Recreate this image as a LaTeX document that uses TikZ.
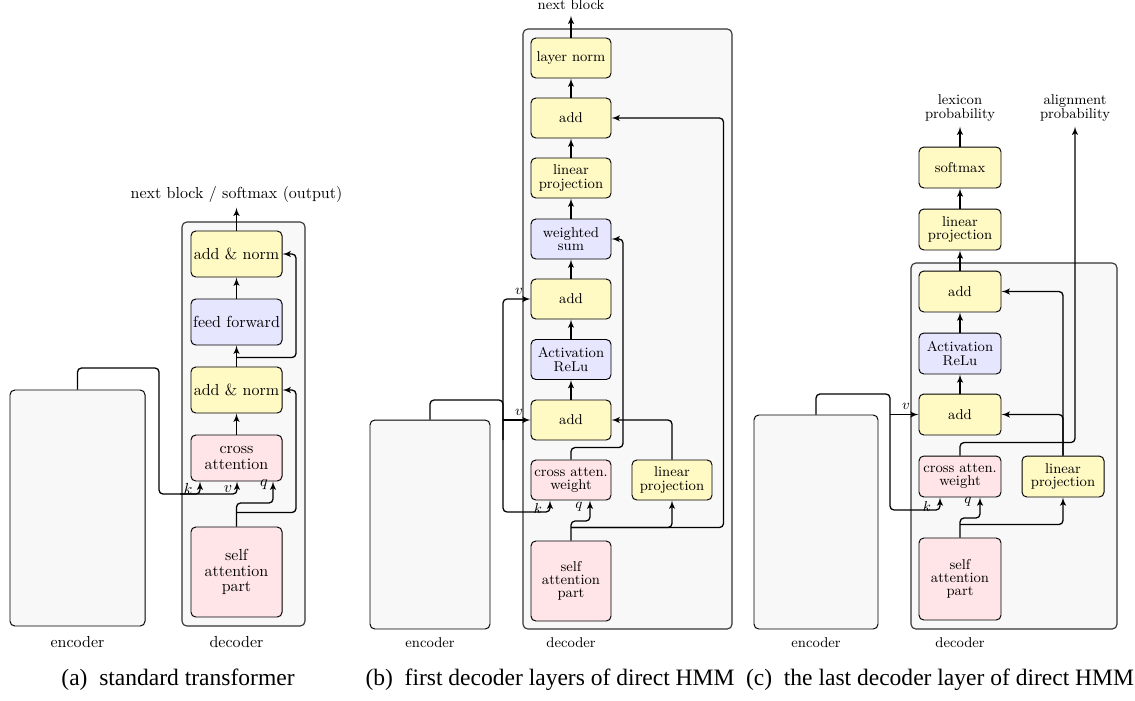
\documentclass[tikz,border=0pt]{standalone}
\usepackage{fontspec}
\newfontfamily\capfont{Liberation Serif}
\usepackage{tikz}
\usetikzlibrary{calc}
\usetikzlibrary{arrows}
\tikzset{>=latex'}
\definecolor{addyellow}{RGB}{255,249,196}
\definecolor{ffblue}{RGB}{230,230,255}
\definecolor{attred}{RGB}{255,229,231}
\definecolor{framegray}{RGB}{248,248,248}
\tikzset{
	blk/.style={draw,rounded corners=3pt,line width=0.6pt,inner sep=1pt,align=center},
	yblk/.style={blk,fill=addyellow},
	bblk/.style={blk,fill=ffblue},
	rblk/.style={blk,fill=attred},
	encblk/.style={blk,fill=framegray},
	decframe/.style={draw=black!80,fill=framegray,rounded corners=3pt,line width=0.7pt},
	sza/.style={minimum width=56.9pt,minimum height=28.75pt,font=\fontsize{10}{9.6}\selectfont},
	szb/.style={minimum width=50pt,minimum height=25pt,font=\fontsize{8.9}{8.2}\selectfont},
	szc/.style={minimum width=51.25pt,minimum height=25.6pt,font=\fontsize{8.9}{8.2}\selectfont},
	conn/.style={line width=0.8pt,rounded corners=2.5pt},
	lbla/.style={font=\fontsize{10}{9.6}\selectfont,align=center},
	lblb/.style={font=\fontsize{8.9}{8.2}\selectfont,align=center},
	capt/.style={font=\capfont\fontsize{14.7}{17}\selectfont}
}

\begin{document}
\begin{tikzpicture}[x=0.625pt,y=-0.625pt]
	\useasboundingbox (0,0) rectangle (1135,700);
	% (a) standard transformer
	\draw[decframe] (182,222) rectangle (305,626);
	\node[encblk,minimum width=84.4pt,minimum height=147.5pt] (encA) at (77.5,508) {};
	\node[yblk,sza] (anA2) at (236.5,254) {add \& norm};
	\node[bblk,sza] (ffA) at (236.5,322) {feed forward};
	\node[yblk,sza] (anA1) at (236.5,390) {add \& norm};
	\node[rblk,sza] (caA) at (236.5,458) {cross\\attention};
	\node[rblk,sza,minimum height=56.25pt] (saA) at (236.5,572) {self\\attention\\part};
	\node[lbla] (outA) at (236.5,194) {next block / softmax (output)};
	\node[lbla] (encAl) at (77.5,642) {encoder};
	\node[lbla] (decAl) at (236.5,642) {decoder};
	\node[lbla] (kAl) at (188,489) {$k$};
	\node[lbla] (vAl) at (228,489) {$v$};
	\node[lbla] (qAl) at (264,485) {$q$};
	\coordinate (kA) at (200,494);
	\coordinate (vA) at (237,494);
	\coordinate (qA) at (273,503);
	\draw[conn,->] (anA2.north) -- (outA.south);
	\draw[conn,->] (ffA.north) -- (anA2.south);
	\draw[conn,->] (anA1.north) -- (ffA.south);
	\draw[conn,->] (caA.north) -- (anA1.south);
	\draw[conn,->] (encA.north) |- (159,368) |- (kA) -- (caA.south -| kA);
	\draw[conn,->] (180,494) -- (vA) -- (caA.south -| vA);
	\draw[conn,->] (saA.north) |- (qA) -- (caA.south -| qA);
	\draw[conn,->] ($(saA.north)+(0,-14)$) -| ($(anA1.east)+(13.5,0)$) -- (anA1.east);
	\draw[conn,->] ($(anA1.north)+(0,-9)$) -| ($(anA2.east)+(13.5,0)$) -- (anA2.east);
	\node[capt] (capA) at (178,680) {(a)\enspace standard transformer};

	% (b) first decoder layers
	\draw[decframe] (523,29) rectangle (732,629);
	\node[encblk,minimum width=75pt,minimum height=130.6pt] (encB) at (430,524.5) {};
	\node[yblk,szb] (lnB) at (571,58) {layer norm};
	\node[yblk,szb] (add3B) at (571,118) {add};
	\node[yblk,szb] (lp1B) at (571,178) {linear\\projection};
	\node[bblk,szb] (wsB) at (571,239) {weighted\\sum};
	\node[yblk,szb] (add2B) at (571,299) {add};
	\node[bblk,szb] (reluB) at (571,359.5) {Activation\\ReLu};
	\node[yblk,szb] (add1B) at (571,420) {add};
	\node[rblk,szb] (cawB) at (571,480) {cross atten.\\weight};
	\node[yblk,szb] (lp2B) at (672,480) {linear\\projection};
	\node[rblk,szb,minimum height=50pt] (saB) at (571,581) {self\\attention\\part};
	\node[lblb] (outB) at (571,5) {next block};
	\node[lblb] (encBl) at (430,643) {encoder};
	\node[lblb] (decBl) at (571,643) {decoder};
	\node[lblb] (v2Bl) at (519,291) {$v$};
	\node[lblb] (v1Bl) at (519,412) {$v$};
	\node[lblb] (kBl) at (538,508) {$k$};
	\node[lblb] (qBl) at (579,507) {$q$};
	\coordinate (kB) at (550,512);
	\coordinate (qB) at (590,521);
	\draw[conn,->] (lnB.north) -- (outB.south);
	\draw[conn,->] (add3B.north) -- (lnB.south);
	\draw[conn,->] (lp1B.north) -- (add3B.south);
	\draw[conn,->] (wsB.north) -- (lp1B.south);
	\draw[conn,->] (add2B.north) -- (wsB.south);
	\draw[conn,->] (reluB.north) -- (add2B.south);
	\draw[conn,->] (add1B.north) -- (reluB.south);
	\draw[conn,->] (encB.north) |- (503,400) |- (kB) -- (cawB.south -| kB);
	\draw[conn,->] (503,420) -- (add1B.west);
	\draw[conn,->] (503,440) |- (add2B.west);
	\draw[conn,->] (saB.north) |- (qB) -- (cawB.south -| qB);
	\draw[conn,->] ($(saB.north)+(0,-13)$) -| (lp2B.south);
	\draw[conn,->] ($(saB.north)+(0,-13)$) -| ($(add3B.east)+(112,0)$) -- (add3B.east);
	\draw[conn,->] (cawB.north) |- ($(cawB.north)+(52,-12)$) |- (wsB.east);
	\draw[conn,->] (lp2B.north) |- (add1B.east);
	\node[capt] (capB) at (550,680) {(b)\enspace first decoder layers of direct HMM};

	% (c) last decoder layer
	\draw[decframe] (911,263) rectangle (1117,629);
	\node[encblk,minimum width=77.5pt,minimum height=133.75pt] (encC) at (816,522) {};
	\node[yblk,szc] (smC) at (960,167.5) {softmax};
	\node[yblk,szc] (lp1C) at (960,229.5) {linear\\projection};
	\node[yblk,szc] (add2C) at (960,291.5) {add};
	\node[bblk,szc] (reluC) at (960,353.5) {Activation\\ReLu};
	\node[yblk,szc] (add1C) at (960,414.5) {add};
	\node[rblk,szc] (cawC) at (960,476.5) {cross atten.\\weight};
	\node[yblk,szc] (lp2C) at (1063,476.5) {linear\\projection};
	\node[rblk,szc,minimum height=51.25pt] (saC) at (960,579) {self\\attention\\part};
	\node[lblb] (lexC) at (960,108) {lexicon\\probability};
	\node[lblb] (alnC) at (1075,108) {alignment\\probability};
	\node[lblb] (encCl) at (816,643) {encoder};
	\node[lblb] (decCl) at (960,643) {decoder};
	\node[lblb] (vCl) at (906,406) {$v$};
	\node[lblb] (kCl) at (927,506) {$k$};
	\node[lblb] (qCl) at (968,502) {$q$};
	\coordinate (kC) at (940,510);
	\coordinate (qC) at (980,518);
	\draw[conn,->] (smC.north) -- (lexC.south);
	\draw[conn,->] (lp1C.north) -- (smC.south);
	\draw[conn,->] (add2C.north) -- (lp1C.south);
	\draw[conn,->] (reluC.north) -- (add2C.south);
	\draw[conn,->] (add1C.north) -- (reluC.south);
	\draw[conn,->] (encC.north) |- (890,394) |- (kC) -- (cawC.south -| kC);
	\draw[conn,->] (890,414.5) -- (add1C.west);
	\draw[conn,->] (saC.north) |- (qC) -- (cawC.south -| qC);
	\draw[conn,->] ($(saC.north)+(0,-13)$) -| (lp2C.south);
	\draw[conn,->] (lp2C.north) |- (add1C.east);
	\draw[conn,->] (lp2C.north) |- (add2C.east);
	\draw[conn,->] (cawC.north) |- ($(cawC.north)+(115,-13)$) -- (alnC.south);
	\node[capt] (capC) at (940,680) {(c)\enspace the last decoder layer of direct HMM};
\end{tikzpicture}
\end{document}
